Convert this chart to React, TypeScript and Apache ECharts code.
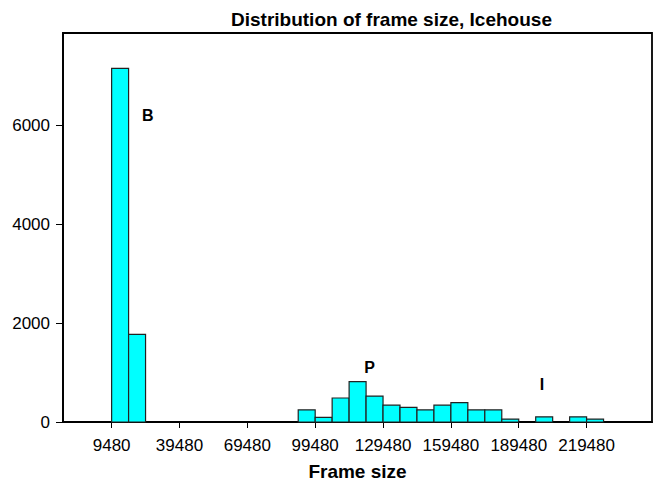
import React, { useEffect, useRef } from "react";
import * as echarts from "echarts";

// Histogram bins: left edge, right edge and frame count
const binStarts = [
  9480, 16980, 24480, 31980, 39480, 46980, 54480, 61980, 69480, 76980,
  84480, 91980, 99480, 106980, 114480, 121980, 129480, 136980, 144480, 151980,
  159480, 166980, 174480, 181980, 189480, 196980, 204480, 211980, 219480,
];
const binWidth = 7500;
const binCounts = [
  7150, 1770, 0, 0, 0, 0, 0, 0, 0, 0,
  0, 245, 95, 485, 815, 525, 340, 295, 245, 340,
  390, 245, 245, 60, 0, 105, 0, 105, 60,
];

// Tick labels
const xTicks = [9480, 39480, 69480, 99480, 129480, 159480, 189480, 219480];
const yTicks = [0, 2000, 4000, 6000];

// Frame-type annotations: [x, y, letter]
const frameTypeNotes: [number, number, string][] = [
  [25500, 6200, "B"],
  [123500, 1110, "P"],
  [199800, 755, "I"],
];

const FONT = "'Liberation Sans', Arial, Helvetica, sans-serif";

export default function App() {
  const ref = useRef<HTMLDivElement>(null);

  useEffect(() => {
    if (!ref.current) return;
    const chart = echarts.init(ref.current, null, { renderer: "svg" });

    const bins = binStarts.map((s, i) => [s, s + binWidth, binCounts[i]]);
    const maxCount = Math.max(...binCounts);

    chart.setOption({
      animation: false,
      backgroundColor: "#fff",
      title: {
        text: "Distribution of frame size, Icehouse",
        left: 226,
        top: 5,
        textStyle: { fontFamily: FONT, fontWeight: "bold", fontSize: 19, color: "#000" },
      },
      grid: {
        left: 63,
        right: 3,
        top: 33,
        bottom: 64,
        show: true,
        borderColor: "#000",
        borderWidth: 1.8,
        backgroundColor: "transparent",
      },
      xAxis: {
        type: "value",
        min: -12020,
        max: 248400,
        name: "Frame size",
        nameLocation: "middle",
        nameGap: 40,
        nameTextStyle: { fontFamily: FONT, fontWeight: "bold", fontSize: 19, color: "#000" },
        axisLine: { show: true, onZero: false, lineStyle: { color: "#000", width: 1.8 } },
        axisTick: { show: true, length: 6, customValues: xTicks, lineStyle: { color: "#000" } },
        axisLabel: {
          customValues: xTicks,
          margin: 15,
          formatter: (v: number) => String(v),
          fontFamily: FONT,
          fontSize: 17,
          color: "#000",
        },
        splitLine: { show: false },
      },
      yAxis: {
        type: "value",
        min: 0,
        max: maxCount * 1.1,
        axisLine: { show: true, onZero: false, lineStyle: { color: "#000", width: 1.8 } },
        axisTick: { show: true, length: 7, customValues: yTicks, lineStyle: { color: "#000" } },
        axisLabel: {
          customValues: yTicks,
          margin: 13,
          formatter: (v: number) => String(v),
          fontFamily: FONT,
          fontSize: 17,
          color: "#000",
        },
        splitLine: { show: false },
      },
      series: [
        {
          type: "custom",
          name: "Frames",
          data: bins,
          encode: { x: [0, 1], y: 2 },
          renderItem: (params: any, api: any) => {
            const count = api.value(2);
            if (!count) return null;
            const topLeft = api.coord([api.value(0), count]);
            const bottomRight = api.coord([api.value(1), 0]);
            return {
              type: "rect",
              shape: {
                x: topLeft[0],
                y: topLeft[1],
                width: bottomRight[0] - topLeft[0],
                height: bottomRight[1] - topLeft[1],
              },
              style: { fill: "#00FFFF", stroke: "#222", lineWidth: 1.2 },
            };
          },
        },
        {
          type: "custom",
          name: "Frame types",
          data: frameTypeNotes,
          encode: { x: 0, y: 1 },
          renderItem: (params: any, api: any) => {
            const p = api.coord([api.value(0), api.value(1)]);
            return {
              type: "text",
              x: p[0],
              y: p[1],
              style: {
                text: frameTypeNotes[params.dataIndex][2],
                fontFamily: FONT,
                fontWeight: "bold",
                fontSize: 16,
                fill: "#000",
                align: "center",
                verticalAlign: "middle",
              },
            };
          },
        },
      ],
    });

    return () => chart.dispose();
  }, []);

  return <div ref={ref} style={{ width: 655, height: 486, position: "absolute", left: 0, top: 0 }} />;
}
